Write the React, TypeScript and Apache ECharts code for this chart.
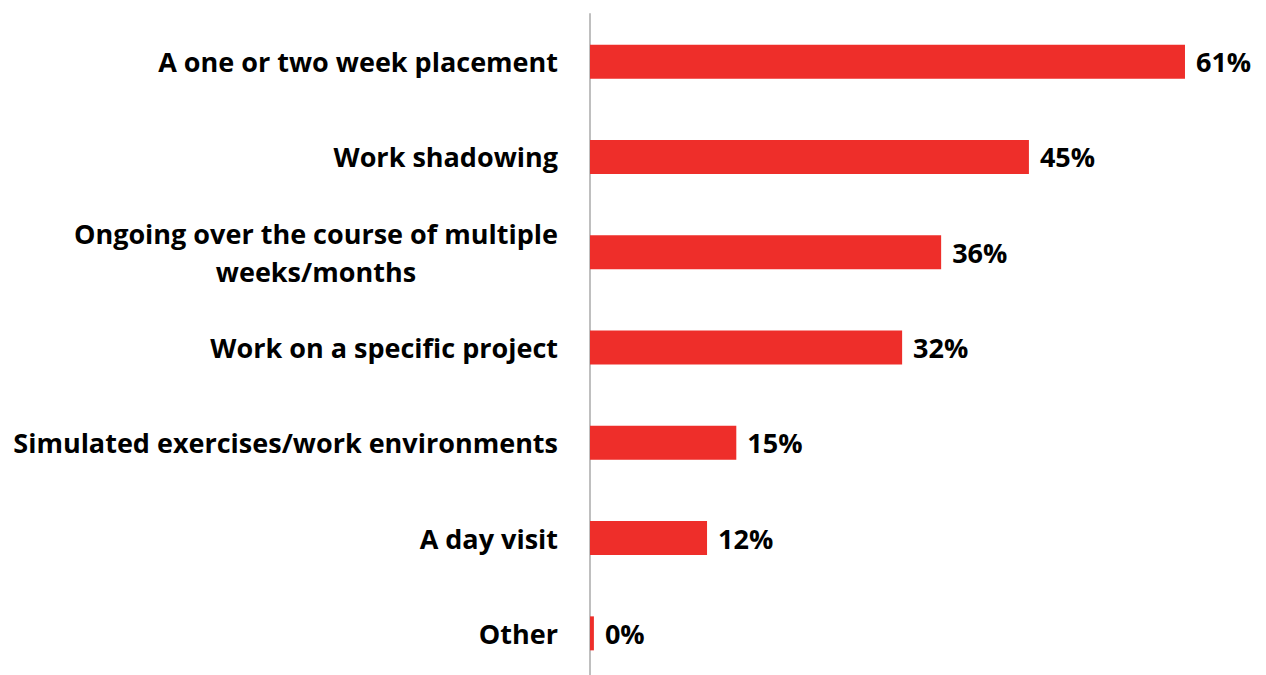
import React, { useEffect, useRef } from "react";
import * as echarts from "echarts";

const categories = [
  "A one or two week placement",
  "Work shadowing",
  "Ongoing over the course of multiple\nweeks/months",
  "Work on a specific project",
  "Simulated exercises/work environments",
  "A day visit",
  "Other",
];
const values = [61, 45, 36, 32, 15, 12, 0.4];
const valueLabels = ["61%", "45%", "36%", "32%", "15%", "12%", "0%"];

const FONT = "Open Sans";
const FS = 27;

export default function App() {
  const ref = useRef<HTMLDivElement>(null);
  useEffect(() => {
    document.body.style.margin = "0";
    const chart = echarts.init(ref.current!, null, { renderer: "svg" });
    chart.setOption({
      animation: false,
      grid: { left: 590, top: 14, width: 634, height: 667, containLabel: false },
      xAxis: {
        type: "value",
        min: 0,
        max: 65,
        show: false,
      },
      yAxis: {
        type: "category",
        inverse: true,
        data: categories,
        axisLine: { show: true, lineStyle: { color: "#bfbfbf", width: 2 } },
        axisTick: { show: false },
        splitLine: { show: false },
        axisLabel: {
          margin: 32,
          color: "#000",
          fontFamily: FONT,
          fontWeight: "bold",
          fontSize: FS,
          lineHeight: 38,
          formatter: (v: string) =>
            v
              .split("\n")
              .map((s) => "{c|" + s + "}")
              .join("\n"),
          rich: {
            c: {
              align: "center",
              color: "#000",
              fontFamily: FONT,
              fontWeight: "bold",
              fontSize: FS,
              lineHeight: 38,
            },
          },
        },
      },
      series: [
        {
          type: "bar",
          data: values,
          barWidth: 34,
          itemStyle: { color: "#EE2E2A" },
          label: {
            show: true,
            position: "right",
            distance: 11,
            color: "#000",
            fontFamily: FONT,
            fontWeight: "bold",
            fontSize: FS,
            formatter: (p: any) => valueLabels[p.dataIndex],
          },
        },
      ],
    });
    return () => chart.dispose();
  }, []);
  return (
    <div style={{ width: 1266, height: 675, overflow: "hidden" }}>
      <div ref={ref} style={{ width: 1266, height: 700 }} />
    </div>
  );
}
